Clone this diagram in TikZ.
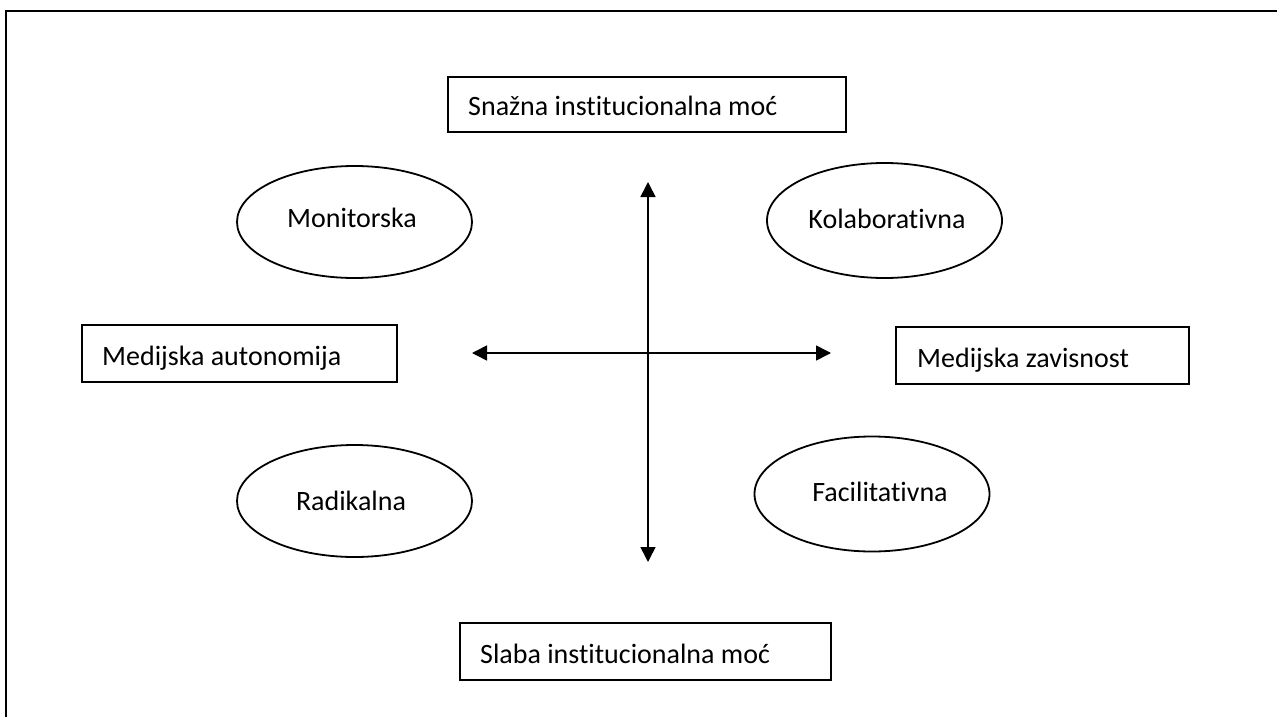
\documentclass[tikz,border=0pt]{standalone}
\usepackage{fontspec}
\setmainfont{Carlito}[Ligatures={NoCommon}]
\usetikzlibrary{arrows.meta,shapes.geometric}
\begin{document}
\begin{tikzpicture}[x=1pt,y=-1pt,
  lbl/.style={draw,line width=1.1pt,rectangle,inner sep=0pt},
  oval/.style={draw,line width=1.8pt,ellipse,inner sep=0pt,minimum width=235pt,minimum height=112pt},
  txt/.style={inner sep=0pt,font=\fontsize{28}{33}\selectfont},
  axis/.style={line width=1.6pt,{Triangle[length=15pt,width=15pt]}-{Triangle[length=15pt,width=15pt]}}]
\useasboundingbox (0,0) rectangle (1277,717);
\fill[white] (0,0) rectangle (1277,717);
\draw[line width=2.5pt] (6,720) -- (6,11) -- (1280,11);
% boxes
\node[lbl,minimum width=398pt,minimum height=55pt] (snazna) at (647,104.5) {};
\node[lbl,minimum width=315pt,minimum height=57pt] (auto) at (239.5,353.5) {};
\node[lbl,minimum width=293pt,minimum height=57pt] (zav) at (1042.5,355.5) {};
\node[lbl,minimum width=371pt,minimum height=57pt] (slaba) at (645.5,651.5) {};
\node[txt,anchor=base west] (tsnazna) at (468,115) {Snažna institucionalna moć};
\node[txt,anchor=base west] (tauto) at (102,365) {Medijska autonomija};
\node[txt,anchor=base west] (tzav) at (917,367) {Medijska zavisnost};
\node[txt,anchor=base west] (tslaba) at (480,663) {Slaba institucionalna moć};
% ellipses
\node[oval] (mon) at (354.5,222) {};
\node[oval,minimum height=115pt] (kol) at (884.5,220.5) {};
\node[oval] (rad) at (354.5,501) {};
\node[oval,minimum height=115pt] (fac) at (872,494) {};
\node[txt,anchor=base] (tmon) at (352,227) {Monitorska};
\node[txt,anchor=base] (tkol) at (887,228) {Kolaborativna};
\node[txt,anchor=base] (trad) at (351,510) {Radikalna};
\node[txt,anchor=base] (tfac) at (880,501) {Facilitativna};
% axes
\coordinate (vt) at (648,182);
\coordinate (vb) at (648,562);
\coordinate (hl) at (472,353);
\coordinate (hr) at (831,353);
\draw[axis] (vt) -- (vb);
\draw[axis] (hl) -- (hr);
\end{tikzpicture}
\end{document}
